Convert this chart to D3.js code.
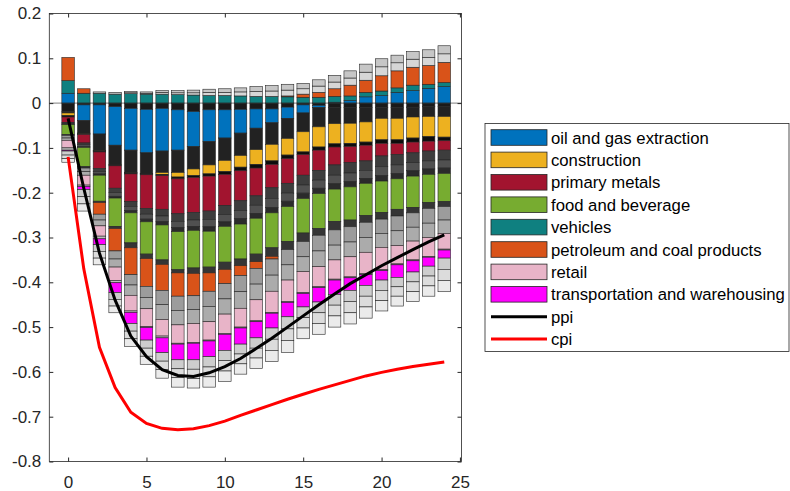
<!DOCTYPE html>
<html>
<head>
<meta charset="utf-8">
<script src="https://cdn.jsdelivr.net/npm/d3@7"></script>
<style>
  body { margin: 0; background: #fff; }
  svg { display: block; font-family: "Liberation Sans", Arial, sans-serif; }
</style>
</head>
<body>
<div id="chart"></div>
<script>
// horizons 0..24
const horizons = d3.range(0, 25);

// sector contributions (stacking order from zero outward)
const other1 = [-0.019,-0.004,-0.004,-0.008,-0.012,-0.014,-0.012,-0.015,-0.019,-0.015,-0.015,-0.014,-0.013,-0.013,-0.009,-0.004,-0.005,-0.010,-0.010,-0.010,-0.010,-0.010,-0.009,-0.008,-0.008];
const oilGas = [0.022,-0.035,-0.065,-0.086,-0.093,-0.097,-0.095,-0.090,-0.078,-0.071,-0.063,-0.053,-0.043,-0.031,-0.025,-0.018,-0.005,0.002,0.006,0.014,0.017,0.024,0.028,0.033,0.037];
const other2 = [-0.003,-0.028,-0.037,-0.043,-0.050,-0.046,-0.048,-0.050,-0.050,-0.052,-0.050,-0.050,-0.048,-0.048,-0.045,-0.042,-0.043,-0.036,-0.035,-0.032,-0.024,-0.024,-0.022,-0.022,-0.022];
const construction = [-0.006,-0.001,-0.001,-0.001,-0.001,-0.001,-0.004,-0.010,-0.015,-0.020,-0.025,-0.026,-0.033,-0.037,-0.037,-0.045,-0.045,-0.045,-0.045,-0.045,-0.048,-0.048,-0.047,-0.045,-0.046];
const other3 = [-0.003,-0.002,-0.002,-0.002,-0.002,-0.002,-0.003,-0.004,-0.004,-0.005,-0.006,-0.008,-0.008,-0.008,-0.008,-0.006,-0.007,-0.007,-0.007,-0.007,-0.008,-0.008,-0.009,-0.010,-0.008];
const primaryMetals = [-0.012,-0.019,-0.037,-0.050,-0.062,-0.075,-0.075,-0.078,-0.078,-0.078,-0.070,-0.067,-0.062,-0.052,-0.055,-0.046,-0.045,-0.040,-0.036,-0.035,-0.028,-0.025,-0.024,-0.022,-0.021];
const other4 = [-0.002,-0.004,-0.007,-0.010,-0.011,-0.013,-0.015,-0.017,-0.017,-0.019,-0.020,-0.022,-0.021,-0.024,-0.022,-0.022,-0.022,-0.023,-0.023,-0.021,-0.024,-0.023,-0.022,-0.022,-0.022];
const other5 = [-0.002,-0.004,-0.005,-0.008,-0.009,-0.011,-0.012,-0.014,-0.014,-0.016,-0.016,-0.018,-0.018,-0.020,-0.018,-0.018,-0.018,-0.019,-0.019,-0.018,-0.020,-0.019,-0.018,-0.018,-0.018];
const other6 = [-0.001,-0.002,-0.003,-0.004,-0.005,-0.006,-0.008,-0.009,-0.009,-0.010,-0.010,-0.012,-0.011,-0.012,-0.012,-0.012,-0.012,-0.012,-0.012,-0.011,-0.012,-0.012,-0.012,-0.012,-0.012];
const foodBeverage = [-0.022,-0.043,-0.058,-0.063,-0.067,-0.072,-0.078,-0.085,-0.084,-0.080,-0.080,-0.078,-0.080,-0.078,-0.078,-0.077,-0.078,-0.072,-0.074,-0.072,-0.070,-0.068,-0.070,-0.063,-0.063];
const other7 = [-0.002,-0.003,-0.003,-0.005,-0.011,-0.010,-0.010,-0.007,-0.012,-0.013,-0.016,-0.015,-0.017,-0.019,-0.018,-0.019,-0.015,-0.019,-0.015,-0.015,-0.015,-0.015,-0.012,-0.013,-0.011];
const vehicles = [0.028,0.022,0.022,0.020,0.021,0.020,0.020,0.019,0.018,0.017,0.017,0.016,0.015,0.015,0.014,0.013,0.013,0.013,0.010,0.010,0.010,0.010,0.012,0.009,0.009];
const petroleum = [0.052,0.010,-0.026,-0.050,-0.060,-0.062,-0.058,-0.052,-0.050,-0.041,-0.032,-0.022,-0.015,-0.006,0.002,0.007,0.011,0.017,0.024,0.027,0.034,0.038,0.040,0.042,0.045];
const other8 = [-0.006,-0.008,-0.013,-0.018,-0.023,-0.025,-0.032,-0.032,-0.031,-0.034,-0.034,-0.036,-0.035,-0.036,-0.034,-0.034,-0.035,-0.034,-0.034,-0.034,-0.032,-0.033,-0.032,-0.033,-0.030];
const other9 = [-0.005,-0.008,-0.013,-0.018,-0.023,-0.025,-0.033,-0.032,-0.031,-0.034,-0.034,-0.037,-0.035,-0.036,-0.034,-0.033,-0.035,-0.033,-0.033,-0.033,-0.031,-0.033,-0.031,-0.032,-0.030];
const retail = [-0.017,-0.022,-0.023,-0.030,-0.035,-0.040,-0.037,-0.041,-0.042,-0.041,-0.043,-0.042,-0.047,-0.047,-0.048,-0.047,-0.045,-0.043,-0.045,-0.048,-0.050,-0.041,-0.042,-0.042,-0.035];
const other10 = [-0.005,-0.003,-0.006,-0.005,-0.003,-0.002,-0.004,-0.002,-0.002,-0.002,-0.002,-0.002,-0.002,-0.002,-0.002,-0.002,-0.002,-0.002,-0.002,-0.002,-0.002,-0.002,-0.002,-0.002,-0.002];
const transport = [-0.002,-0.007,-0.013,-0.022,-0.025,-0.028,-0.033,-0.035,-0.037,-0.035,-0.036,-0.036,-0.036,-0.033,-0.032,-0.030,-0.032,-0.032,-0.028,-0.024,-0.021,-0.028,-0.025,-0.020,-0.018];
const other11 = [-0.009,-0.016,-0.015,-0.015,-0.017,-0.018,-0.019,-0.020,-0.021,-0.023,-0.023,-0.022,-0.023,-0.025,-0.027,-0.024,-0.024,-0.024,-0.025,-0.024,-0.023,-0.021,-0.022,-0.022,-0.025];
const other12 = [-0.008,-0.016,-0.015,-0.015,-0.017,-0.018,-0.019,-0.020,-0.021,-0.022,-0.023,-0.022,-0.022,-0.025,-0.026,-0.023,-0.024,-0.024,-0.025,-0.024,-0.023,-0.021,-0.022,-0.022,-0.025];
const other13 = [-0.008,-0.016,-0.015,-0.015,-0.017,-0.018,-0.019,-0.021,-0.021,-0.023,-0.023,-0.023,-0.023,-0.025,-0.027,-0.024,-0.024,-0.025,-0.025,-0.025,-0.023,-0.022,-0.022,-0.023,-0.025];
const other14 = [0,0,0,0,0.002,0.002,0.004,0.004,0.005,0.007,0.007,0.009,0.011,0.012,0.013,0.012,0.014,0.015,0.016,0.018,0.020,0.018,0.018,0.018,0.019];
const other15 = [0,0,0.003,0.004,0.003,0.003,0.004,0.005,0.006,0.007,0.008,0.009,0.011,0.012,0.013,0.012,0.014,0.015,0.016,0.018,0.018,0.017,0.017,0.017,0.018];

// aggregate price responses
const ppi = [-0.034,-0.19,-0.335,-0.44,-0.52,-0.566,-0.595,-0.608,-0.61,-0.602,-0.588,-0.57,-0.548,-0.525,-0.5,-0.475,-0.45,-0.426,-0.403,-0.383,-0.363,-0.345,-0.327,-0.31,-0.294];
const cpi = [-0.12,-0.37,-0.545,-0.635,-0.69,-0.715,-0.726,-0.729,-0.727,-0.72,-0.71,-0.697,-0.685,-0.673,-0.661,-0.65,-0.639,-0.629,-0.619,-0.609,-0.601,-0.594,-0.588,-0.583,-0.578];

const yTicks = [0.2, 0.1, 0, -0.1, -0.2, -0.3, -0.4, -0.5, -0.6, -0.7, -0.8];
const xTicks = [0, 5, 10, 15, 20, 25];

// series: key, values, fill
const series = [
    ["o1", other1, "#1a1a1a"],
    ["oil and gas extraction", oilGas, "#0072bd"],
    ["o2", other2, "#222222"],
    ["construction", construction, "#edb120"],
    ["o3", other3, "#0d0d0d"],
    ["primary metals", primaryMetals, "#a2142f"],
    ["o4", other4, "#3d3d3d"],
    ["o5", other5, "#505050"],
    ["o6", other6, "#2b2b2b"],
    ["food and beverage", foodBeverage, "#77ac30"],
    ["o7", other7, "#353535"],
    ["vehicles", vehicles, "#0f8080"],
    ["petroleum and coal products", petroleum, "#d95319"],
    ["o8", other8, "#9c9c9c"],
    ["o9", other9, "#ababab"],
    ["retail", retail, "#e8b4c8"],
    ["o10", other10, "#bebebe"],
    ["transportation and warehousing", transport, "#ff00ff"],
    ["o11", other11, "#cdcdcd"],
    ["o12", other12, "#dcdcdc"],
    ["o13", other13, "#ebebeb"],
    ["o14", other14, "#d6d6d6"],
    ["o15", other15, "#c6c6c6"]
];

const legendItems = ["oil and gas extraction", "construction", "primary metals", "food and beverage",
    "vehicles", "petroleum and coal products", "retail", "transportation and warehousing"];

const width = 790, height = 491;
const svg = d3.select("#chart").append("svg")
    .attr("width", width)
    .attr("height", height);

const x = d3.scaleLinear().domain([-1.2, 25.1]).range([49.3, 461.5]);
const y = d3.scaleLinear().domain([-0.8, 0.2]).range([461.5, 13.5]);
const barW = x(0.8) - x(0);

// build table for d3.stack
const table = horizons.map((h, i) => {
    const row = { h: h };
    series.forEach(s => { row[s[0]] = s[1][i]; });
    return row;
});
const stacked = d3.stack()
    .keys(series.map(s => s[0]))
    .offset(d3.stackOffsetDiverging)(table);
const colorOf = new Map(series.map(s => [s[0], s[2]]));

const plot = svg.append("g");

plot.selectAll("g.layer")
    .data(stacked)
    .enter().append("g")
    .attr("class", "layer")
    .attr("fill", d => colorOf.get(d.key))
    .selectAll("rect")
    .data(d => d)
    .enter().append("rect")
    .attr("x", d => x(d.data.h) - barW / 2)
    .attr("width", barW)
    .attr("y", d => y(Math.max(d[0], d[1])))
    .attr("height", d => Math.abs(y(d[0]) - y(d[1])))
    .attr("stroke", "#262626")
    .attr("stroke-width", 0.6);

// zero baseline
plot.append("line")
    .attr("x1", x.range()[0]).attr("x2", x.range()[1])
    .attr("y1", y(0)).attr("y2", y(0))
    .attr("stroke", "#262626")
    .attr("stroke-width", 0.6);

// lines
const line = d3.line().x((d, i) => x(horizons[i])).y(d => y(d));
plot.append("path").datum(cpi)
    .attr("d", line).attr("fill", "none")
    .attr("stroke", "#ff0000").attr("stroke-width", 3);
plot.append("path").datum(ppi)
    .attr("d", line).attr("fill", "none")
    .attr("stroke", "#000").attr("stroke-width", 3);

// axes box with inner ticks
const fmt = d => d === 0 ? "0" : d.toFixed(1);
const axisStyle = g => {
    g.select(".domain").remove();
    g.selectAll(".tick line").attr("stroke", "#262626");
    g.selectAll(".tick text").attr("fill", "#262626").style("font-size", "17px");
};
svg.append("g")
    .attr("transform", `translate(${x.range()[0]},0)`)
    .call(d3.axisLeft(y).tickValues(yTicks).tickFormat(fmt).tickSize(-4).tickPadding(8))
    .call(axisStyle);
svg.append("g")
    .attr("transform", `translate(${x.range()[1]},0)`)
    .call(d3.axisRight(y).tickValues(yTicks).tickFormat("").tickSize(-4))
    .call(axisStyle);
svg.append("g")
    .attr("transform", `translate(0,${y.range()[0]})`)
    .call(d3.axisBottom(x).tickValues(xTicks).tickFormat(d3.format("d")).tickSize(-4).tickPadding(14))
    .call(axisStyle);
svg.append("g")
    .attr("transform", `translate(0,${y.range()[1]})`)
    .call(d3.axisTop(x).tickValues(xTicks).tickFormat("").tickSize(-4))
    .call(axisStyle);
svg.append("rect")
    .attr("x", x.range()[0]).attr("y", y.range()[1])
    .attr("width", x.range()[1] - x.range()[0])
    .attr("height", y.range()[0] - y.range()[1])
    .attr("fill", "none").attr("stroke", "#262626").attr("stroke-width", 0.8);

// legend
const legend = svg.append("g").attr("transform", "translate(485,123.5)");
legend.append("rect")
    .attr("width", 304).attr("height", 228)
    .attr("fill", "#fff").attr("stroke", "#262626").attr("stroke-width", 0.8);
const rowH = 22.4, row0 = 14;
legendItems.forEach((k, i) => {
    const cy = row0 + i * rowH;
    legend.append("rect")
        .attr("x", 6).attr("y", cy - 7.8).attr("width", 56).attr("height", 15.6)
        .attr("fill", colorOf.get(k)).attr("stroke", "#262626").attr("stroke-width", 0.8);
    legend.append("text")
        .attr("x", 66).attr("y", cy + 6)
        .style("font-size", "16.7px").attr("fill", "#000")
        .text(k);
});
[["ppi", "#000"], ["cpi", "#ff0000"]].forEach((d, j) => {
    const cy = row0 + (8 + j) * rowH;
    legend.append("line")
        .attr("x1", 6).attr("x2", 62).attr("y1", cy).attr("y2", cy)
        .attr("stroke", d[1]).attr("stroke-width", 3);
    legend.append("text")
        .attr("x", 66).attr("y", cy + 6)
        .style("font-size", "16.7px").attr("fill", "#000")
        .text(d[0]);
});
</script>
</body>
</html>
